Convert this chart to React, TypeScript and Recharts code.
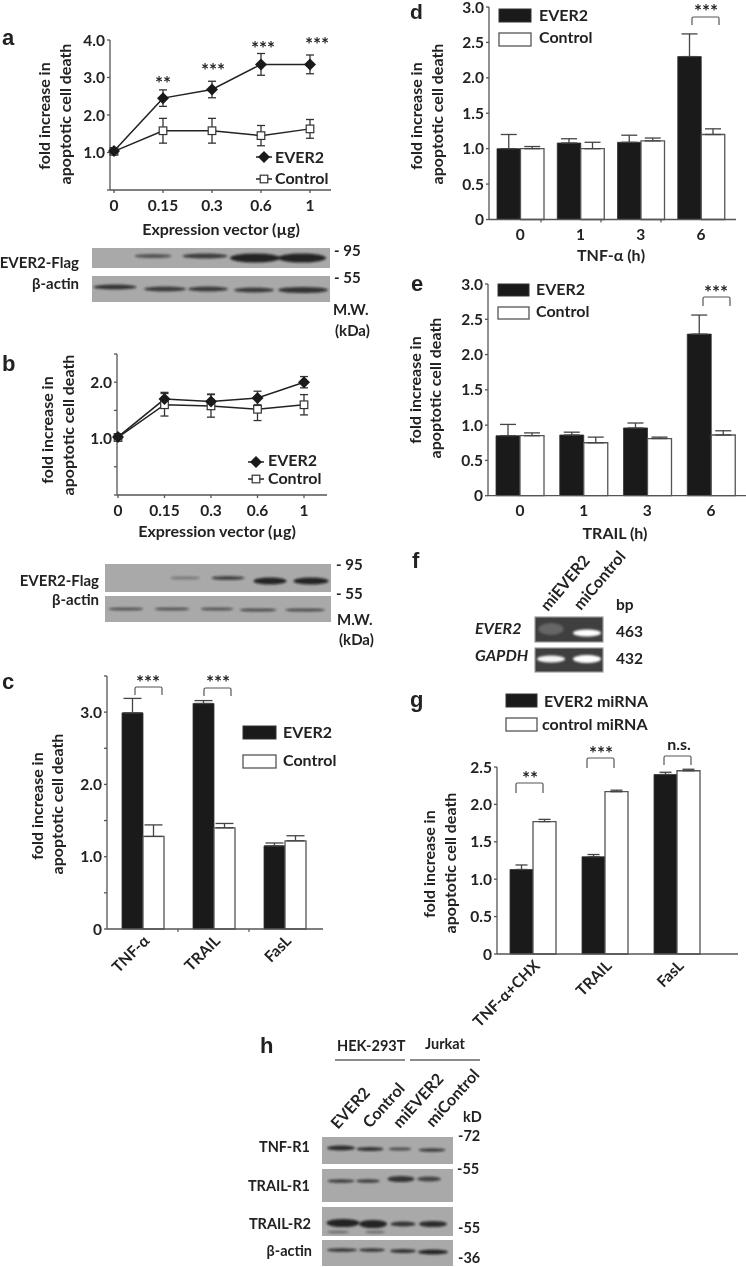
import { LineChart, Line, BarChart, Bar, XAxis, YAxis, ErrorBar } from 'recharts';

const FONT = 'Lato, sans-serif';
const INK = '#222';
const AXIS = '#555';

// a
const doses = ['0', '0.15', '0.3', '0.6', '1'];
const aEver = [1.04, 2.45, 2.68, 3.35, 3.35];
const aEverErr = [0.08, 0.22, 0.22, 0.29, 0.25];
const aControl = [1.03, 1.58, 1.58, 1.45, 1.63];
const aControlErr = [0.08, 0.33, 0.33, 0.27, 0.25];
const aTicks = [0, 1, 2, 3, 4];
const aTickLabels = ['', '1.0', '2.0', '3.0', '4.0'];

// b
const bEver = [1.03, 1.7, 1.66, 1.72, 2.0];
const bEverErr = [0.05, 0.12, 0.13, 0.12, 0.1];
const bControl = [1.02, 1.6, 1.58, 1.52, 1.6];
const bControlErr = [0.06, 0.2, 0.2, 0.2, 0.18];
const bTicks = [0, 0.5, 1, 1.5, 2, 2.5];
const bTickLabels = ['', '', '1.0', '', '2.0', ''];

// c
const cCats = ['TNF-α', 'TRAIL', 'FasL'];
const cEver = [2.99, 3.12, 1.15];
const cEverErr = [0.2, 0.04, 0.04];
const cControl = [1.28, 1.4, 1.22];
const cControlErr = [0.16, 0.06, 0.07];
const cTicks = [0, 0.5, 1, 1.5, 2, 2.5, 3, 3.5];
const cTickLabels = ['0', '', '1.0', '', '2.0', '', '3.0', ''];

// d
const hours = ['0', '1', '3', '6'];
const dEver = [1.0, 1.08, 1.09, 2.3];
const dEverErr = [0.2, 0.06, 0.1, 0.32];
const dControl = [1.0, 1.0, 1.11, 1.2];
const dControlErr = [0.03, 0.09, 0.04, 0.08];

// e
const eEver = [0.85, 0.86, 0.96, 2.29];
const eEverErr = [0.16, 0.04, 0.07, 0.27];
const eControl = [0.85, 0.75, 0.81, 0.86];
const eControlErr = [0.04, 0.08, 0.02, 0.06];

// g
const gCats = ['TNF-α+CHX', 'TRAIL', 'FasL'];
const gEver = [1.13, 1.3, 2.4];
const gEverErr = [0.06, 0.03, 0.03];
const gControl = [1.77, 2.17, 2.45];
const gControlErr = [0.03, 0.02, 0.02];

const halfTicks = [0, 0.5, 1, 1.5, 2, 2.5, 3];
const halfLabels = ['0', '0.5', '1.0', '1.5', '2.0', '2.5', '3.0'];
const gTicks = [0, 0.5, 1, 1.5, 2, 2.5];
const gTickLabels = ['0', '0.5', '1.0', '1.5', '2.0', '2.5'];

// gel strips: [left, top, right, bottom]
const blotStrips = [
  [92, 248, 330, 268], [92, 276, 330, 302],
  [105, 564, 331, 592], [105, 596, 331, 622],
  [322, 1137, 453, 1164], [322, 1169, 453, 1202], [322, 1207, 453, 1236], [322, 1240, 453, 1266],
];
// bands: [cx, cy, width, height, opacity]
const blotBands = [
  [153, 256, 37, 3, 0.55], [205, 256, 45, 4, 0.7], [255, 258, 50, 8, 0.85], [302, 258, 48, 8, 0.85],
  [115, 287, 43, 4, 0.75], [165, 289, 42, 4, 0.7], [208, 289, 40, 4, 0.7], [254, 290, 40, 4, 0.7], [303, 290, 50, 5, 0.75],
  [185, 578, 30, 2, 0.3], [228, 578, 33, 3, 0.65], [270, 581, 33, 6, 0.85], [311, 581, 35, 6, 0.85],
  [126, 609, 35, 2, 0.55], [172, 609, 35, 2, 0.55], [217, 609, 33, 2, 0.55], [258, 610, 37, 2, 0.6], [305, 610, 40, 2, 0.6],
  [341, 1148, 28, 4, 0.8], [370, 1149, 27, 3, 0.75], [400, 1149, 23, 2, 0.6], [432, 1150, 27, 2.5, 0.7],
  [341, 1181, 27, 2.5, 0.7], [368, 1181, 24, 2.5, 0.7], [401, 1179, 27, 5, 0.75], [429, 1179, 24, 4, 0.65],
  [343, 1223, 33, 7, 0.85], [373, 1224, 28, 7, 0.85], [403, 1224, 25, 4, 0.75], [433, 1224, 28, 5, 0.8],
  [338, 1232, 22, 1.5, 0.4], [375, 1232, 20, 1.5, 0.4],
  [342, 1250, 30, 2.5, 0.75], [372, 1250, 26, 2.5, 0.75], [403, 1251, 26, 3, 0.75], [433, 1252, 30, 4, 0.85],
];
const gelStrips = [[535, 617, 603, 642], [535, 648, 603, 672]];
const gelBands = [
  [551, 629, 25, 12, 0.2], [587, 633, 28, 7, 1],
  [551, 659, 28, 7, 0.95], [587, 659, 28, 8, 1],
];

// brackets: [left, right, top, bottom, label, label centre, label y]
const brackets: [number, number, number, number, string, number, number][] = [
  [135, 162, 687, 695, '***', 148, 678],
  [204, 231, 688, 696, '***', 218, 678],
  [692, 719, 17, 25, '***', 706, 7],
  [703, 730, 297, 306, '***', 716, 288],
  [516, 543, 783, 793, '**', 530, 774],
  [587, 614, 758, 768, '***', 601, 749],
];
const aStars: [string, number, number][] = [
  ['**', 163, 79], ['***', 213, 66], ['***', 263, 44], ['***', 317, 40],
];
// small marks between bar groups on the x axes
const groupMarks = [
  [178, 929], [249, 929], [541, 219.5], [601, 219.5], [661, 219.5],
];

type Plot = { l: number; t: number; r: number; b: number };

const tickStyle = { fill: INK, fontSize: 15.5, fontWeight: 700, fontFamily: FONT };
const axisStyle = { stroke: AXIS, strokeWidth: 1.3 };

function Diamond(props: any) {
  const { cx, cy, key } = props;
  return <polygon key={key} points={`${cx - 6},${cy} ${cx},${cy - 6} ${cx + 6},${cy} ${cx},${cy + 6}`} fill="#1a1a1a" />;
}

function Square(props: any) {
  const { cx, cy, key } = props;
  return <rect key={key} x={cx - 3.8} y={cy - 3.8} width={7.6} height={7.6} fill="#fff" stroke="#333" strokeWidth={1.2} />;
}

const LEFT = 44;
const TOP = 10;
const BELOW = 95;

function DosePanel({ plot, ever, everErr, control, controlErr, domain, ticks, labels, padding }: any) {
  const data = doses.map((d, i) => ({
    dose: d, ever: ever[i], everErr: everErr[i], control: control[i], controlErr: controlErr[i],
  }));
  return (
    <div style={{ position: 'absolute', left: plot.l - LEFT, top: plot.t - TOP }}>
      <LineChart
        width={plot.r - plot.l + LEFT + 6}
        height={plot.b - plot.t + TOP + BELOW}
        data={data}
        margin={{ left: 0, top: TOP, right: 6, bottom: 0 }}
      >
        <XAxis
          dataKey="dose" scale="point" padding={padding} height={BELOW} interval={0}
          axisLine={axisStyle} tickLine={axisStyle} tickSize={3} tickMargin={7} tick={tickStyle}
        />
        <YAxis
          domain={domain} ticks={ticks} width={LEFT} interval={0} tickFormatter={(_: number, i: number) => labels[i]}
          axisLine={axisStyle} tickLine={axisStyle} tickSize={3} tickMargin={2} tick={tickStyle}
        />
        <Line dataKey="control" stroke={INK} strokeWidth={1.5} dot={Square} isAnimationActive={false}>
          <ErrorBar dataKey="controlErr" direction="y" width={4} stroke="#333" strokeWidth={1.3} isAnimationActive={false} />
        </Line>
        <Line dataKey="ever" stroke={INK} strokeWidth={1.5} dot={Diamond} isAnimationActive={false}>
          <ErrorBar dataKey="everErr" direction="y" width={4} stroke="#333" strokeWidth={1.3} isAnimationActive={false} />
        </Line>
      </LineChart>
    </div>
  );
}

function BarPanel({ plot, cats, ever, everErr, control, controlErr, domain, ticks, labels, padding, barSize, capWidth, rotated }: any) {
  const data = cats.map((c: string, i: number) => ({
    cat: c, ever: ever[i], everErr: [0, everErr[i]], control: control[i], controlErr: [0, controlErr[i]],
  }));
  return (
    <div style={{ position: 'absolute', left: plot.l - LEFT, top: plot.t - TOP }}>
      <BarChart
        width={plot.r - plot.l + LEFT + 6}
        height={plot.b - plot.t + TOP + BELOW}
        data={data}
        barGap={0}
        margin={{ left: 0, top: TOP, right: 6, bottom: 0 }}
      >
        <XAxis
          dataKey="cat" padding={padding} height={BELOW} interval={0} tickLine={false}
          axisLine={axisStyle} tickMargin={rotated ? -1 : 3} tick={tickStyle}
          angle={rotated ? -45 : 0} textAnchor={rotated ? 'end' : 'middle'}
        />
        <YAxis
          domain={domain} ticks={ticks} width={LEFT} interval={0} tickFormatter={(_: number, i: number) => labels[i]}
          axisLine={axisStyle} tickLine={axisStyle} tickSize={3} tickMargin={2} tick={tickStyle}
        />
        <Bar dataKey="ever" barSize={barSize} fill="#1a1a1a" stroke="#333" strokeWidth={0.8} isAnimationActive={false}>
          <ErrorBar dataKey="everErr" direction="y" width={capWidth} stroke="#444" strokeWidth={1.3} isAnimationActive={false} />
        </Bar>
        <Bar dataKey="control" barSize={barSize} fill="#fff" stroke="#555" strokeWidth={1.3} isAnimationActive={false}>
          <ErrorBar dataKey="controlErr" direction="y" width={capWidth} stroke="#444" strokeWidth={1.3} isAnimationActive={false} />
        </Bar>
      </BarChart>
    </div>
  );
}

function T({ x, y, children, anchor = 'start', size = 16, rotate, italic, weight = 700, family = FONT }: any) {
  return (
    <text
      x={x} y={y} textAnchor={anchor} fontSize={size} fontWeight={weight} fontFamily={family} fill={INK}
      fontStyle={italic ? 'italic' : 'normal'} transform={rotate ? `rotate(${rotate} ${x} ${y})` : undefined}
    >
      {children}
    </text>
  );
}

// two rotated lines for the y axis title
function YTitle({ x1, y1, x2, y2 }: { x1: number; y1: number; x2: number; y2: number }) {
  return (
    <>
      <T x={x1} y={y1} anchor="middle" rotate={-90}>fold increase in</T>
      <T x={x2} y={y2} anchor="middle" rotate={-90}>apoptotic cell death</T>
    </>
  );
}

function BoxKey({ x, w, h, y1, y2, tx, b1, b2, t1 = 'EVER2', t2 = 'Control', tx2 }: any) {
  return (
    <>
      <rect x={x} y={y1} width={w} height={h} fill="#1a1a1a" stroke="#333" />
      <rect x={x} y={y2} width={w} height={h} fill="#fff" stroke="#555" strokeWidth={1.3} />
      <T x={tx} y={b1}>{t1}</T>
      <T x={tx2 ?? tx} y={b2}>{t2}</T>
    </>
  );
}

function MarkerKey({ x, y1, y2, tx, b1, b2 }: any) {
  return (
    <>
      <line x1={x - 8} x2={x + 8} y1={y1} y2={y1} stroke={INK} strokeWidth={1.5} />
      <Diamond cx={x} cy={y1} />
      <line x1={x - 8} x2={x + 8} y1={y2} y2={y2} stroke={INK} strokeWidth={1.5} />
      <Square cx={x} cy={y2} />
      <T x={tx} y={b1}>EVER2</T>
      <T x={tx} y={b2}>Control</T>
    </>
  );
}

function Annotations() {
  return (
    <svg width={746} height={1267} style={{ position: 'absolute', left: 0, top: 0 }}>
      <defs>
        <filter id="soft" x="-30%" y="-100%" width="160%" height="300%"><feGaussianBlur stdDeviation="1.2" /></filter>
      </defs>

      {/* gel pictures */}
      {blotStrips.map(([l, t, r, b], i) => (
        <rect key={i} x={l} y={t} width={r - l} height={b - t} fill="#a9a9a9" />
      ))}
      {blotBands.map(([cx, cy, w, h, o], i) => (
        <ellipse key={i} cx={cx} cy={cy} rx={w / 2} ry={h / 2 + 0.6} fill="#111" opacity={o} filter="url(#soft)" />
      ))}
      {gelStrips.map(([l, t, r, b], i) => (
        <rect key={i} x={l} y={t} width={r - l} height={b - t} fill="#3f3f3f" stroke="#999" strokeWidth={1.2} />
      ))}
      {gelBands.map(([cx, cy, w, h, o], i) => (
        <ellipse key={i} cx={cx} cy={cy} rx={w / 2} ry={h / 2} fill="#fff" opacity={o} filter="url(#soft)" />
      ))}

      {/* panel letters */}
      {[['a', 2, 45], ['b', 2, 371], ['c', 2, 689], ['e', 411, 291], ['f', 412, 568], ['g', 410, 707], ['h', 260, 1053]].map(([s, x, y]) => (
        <T key={s as string} x={x} y={y} size={22} family="Liberation Sans, sans-serif">{s}</T>
      ))}
      <T x={410} y={19} size={21} family="Liberation Sans, sans-serif">d</T>

      {/* axis titles */}
      <YTitle x1={50} y1={116} x2={71} y2={114} />
      <YTitle x1={53} y1={430} x2={74} y2={425} />
      <YTitle x1={43} y1={806} x2={63} y2={804} />
      <YTitle x1={422} y1={116} x2={443} y2={114} />
      <YTitle x1={421} y1={390} x2={441} y2={388} />
      <YTitle x1={435} y1={864} x2={456} y2={863} />
      <T x={221} y={235} anchor="middle">Expression vector (µg)</T>
      <T x={217} y={537} anchor="middle">Expression vector (µg)</T>
      <T x={611} y={261} anchor="middle">TNF-α (h)</T>
      <T x={615} y={539} anchor="middle">TRAIL (h)</T>

      {/* legends */}
      <MarkerKey x={264} y1={157} y2={179} tx={275} b1={163} b2={184} />
      <MarkerKey x={256} y1={462} y2={479} tx={268} b1={466} b2={484} />
      <BoxKey x={243} w={33} h={13} y1={726} y2={755} tx={283} b1={738} b2={766} />
      <BoxKey x={499} w={32} h={13} y1={9} y2={33} tx={539} b1={21} b2={43} />
      <BoxKey x={498} w={31} h={12} y1={284} y2={307} tx={536} b1={295} b2={317} />
      <BoxKey x={506} w={31} h={13} y1={694} y2={718} tx={544} tx2={542} b1={707} b2={730} t1="EVER2 miRNA" t2="control miRNA" />

      {/* significance */}
      {brackets.map(([l, r, t, b, s, c, y], i) => (
        <g key={i}>
          <path d={`M${l} ${b}V${t + 1.5}Q${l} ${t} ${l + 1.5} ${t}H${r - 1.5}Q${r} ${t} ${r} ${t + 1.5}V${b}`} fill="none" stroke="#555" strokeWidth={1.2} />
          <T x={c} y={y + 11} anchor="middle" size={19}>{s}</T>
        </g>
      ))}
      {aStars.map(([s, c, y], i) => (
        <T key={i} x={c} y={y + 11} anchor="middle" size={19}>{s}</T>
      ))}
      <path d="M664 765V757.5Q664 756 665.5 756H689.5Q691 756 691 757.5V765" fill="none" stroke="#555" strokeWidth={1.2} />
      <T x={679} y={750} anchor="middle">n.s.</T>

      {groupMarks.map(([x, y], i) => (
        <line key={i} x1={x} x2={x} y1={y} y2={y + 3} stroke={AXIS} strokeWidth={1.2} />
      ))}

      {/* blot a */}
      <T x={79} y={268} anchor="end" size={15}>EVER2-Flag</T>
      <T x={79} y={289} anchor="end" size={15}>β-actin</T>
      <T x={334} y={256} size={15}>- 95</T>
      <T x={334} y={283} size={15}>- 55</T>
      <T x={333} y={315} size={15}>M.W.</T>
      <T x={335} y={336} size={15}>(kDa)</T>

      {/* blot b */}
      <T x={99} y={586} anchor="end" size={15}>EVER2-Flag</T>
      <T x={99} y={605} anchor="end" size={15}>β-actin</T>
      <T x={336} y={570} size={15}>- 95</T>
      <T x={336} y={599} size={15}>- 55</T>
      <T x={337} y={625} size={15}>M.W.</T>
      <T x={339} y={645} size={15}>(kDa)</T>

      {/* f */}
      <T x={548} y={612} rotate={-50}>miEVER2</T>
      <T x={581} y={611} rotate={-50}>miControl</T>
      <T x={616} y={610} size={15.5}>bp</T>
      <T x={616} y={637} size={15.5}>463</T>
      <T x={616} y={664} size={15.5}>432</T>
      <T x={475} y={634} italic>EVER2</T>
      <T x={475} y={661} italic>GAPDH</T>

      {/* h */}
      <T x={337} y={1051} size={14.5}>HEK-293T</T>
      <T x={425} y={1049} size={14.5}>Jurkat</T>
      <line x1={335} x2={405} y1={1060} y2={1060} stroke="#666" strokeWidth={1.5} />
      <line x1={410} x2={480} y1={1060} y2={1060} stroke="#666" strokeWidth={1.5} />
      <T x={338} y={1130} rotate={-48}>EVER2</T>
      <T x={370} y={1129} rotate={-48}>Control</T>
      <T x={400} y={1129} rotate={-48}>miEVER2</T>
      <T x={433} y={1128} rotate={-48}>miControl</T>
      <T x={463} y={1122} size={14.5}>kD</T>
      <T x={458} y={1141} size={14.5}>-72</T>
      <T x={457} y={1174} size={14.5}>-55</T>
      <T x={458} y={1233} size={14.5}>-55</T>
      <T x={458} y={1263} size={14.5}>-36</T>
      <T x={310} y={1152} anchor="end" size={14.5}>TNF-R1</T>
      <T x={310} y={1191} anchor="end" size={14.5}>TRAIL-R1</T>
      <T x={311} y={1229} anchor="end" size={14.5}>TRAIL-R2</T>
      <T x={312} y={1256} anchor="end" size={14.5}>β-actin</T>
    </svg>
  );
}

const panelA: Plot = { l: 110, t: 40, r: 331, b: 190 };
const panelB: Plot = { l: 117, t: 354, r: 327, b: 495 };
const panelC: Plot = { l: 107, t: 676, r: 323, b: 929 };
const panelD: Plot = { l: 489, t: 7, r: 736, b: 219.5 };
const panelE: Plot = { l: 488, t: 284, r: 746, b: 495.7 };
const panelG: Plot = { l: 497, t: 767, r: 738, b: 954 };

export default function App() {
  return (
    <div style={{ position: 'absolute', left: 0, top: 0, width: 746, height: 1267, overflow: 'hidden', background: '#fff', filter: 'blur(0.5px)' }}>
      <DosePanel plot={panelA} ever={aEver} everErr={aEverErr} control={aControl} controlErr={aControlErr}
        domain={[0, 4]} ticks={aTicks} labels={aTickLabels} padding={{ left: 4, right: 21 }} />
      <DosePanel plot={panelB} ever={bEver} everErr={bEverErr} control={bControl} controlErr={bControlErr}
        domain={[0, 2.5]} ticks={bTicks} labels={bTickLabels} padding={{ left: 1, right: 23 }} />
      <BarPanel plot={panelC} cats={cCats} ever={cEver} everErr={cEverErr} control={cControl} controlErr={cControlErr}
        domain={[0, 3.5]} ticks={cTicks} labels={cTickLabels} padding={{ left: 0, right: 3 }} barSize={21} capWidth={9} rotated />
      <BarPanel plot={panelD} cats={hours} ever={dEver} everErr={dEverErr} control={dControl} controlErr={dControlErr}
        domain={[0, 3]} ticks={halfTicks} labels={halfLabels} padding={{ left: 1, right: 5 }} barSize={23.5} capWidth={8} />
      <BarPanel plot={panelE} cats={hours} ever={eEver} everErr={eEverErr} control={eControl} controlErr={eControlErr}
        domain={[0, 3]} ticks={halfTicks} labels={halfLabels} padding={{ left: 0, right: 3 }} barSize={24} capWidth={8} />
      <BarPanel plot={panelG} cats={gCats} ever={gEver} everErr={gEverErr} control={gControl} controlErr={gControlErr}
        domain={[0, 2.5]} ticks={gTicks} labels={gTickLabels} padding={{ left: 0, right: 25 }} barSize={23} capWidth={6} rotated />
      <Annotations />
    </div>
  );
}
